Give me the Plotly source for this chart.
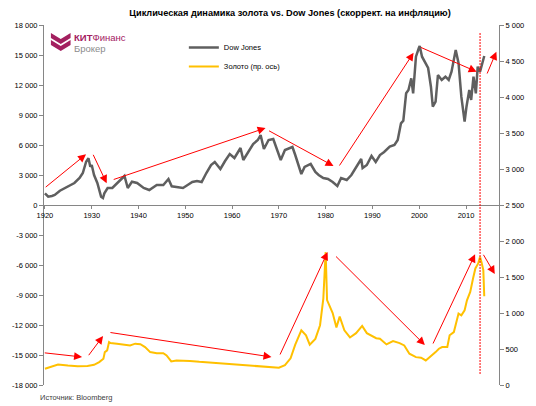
import plotly.graph_objects as go

# ---------------- data ----------------
dow_years = [1920.0, 1920.7, 1921.5, 1922.1, 1923.2, 1924.2, 1925.3, 1926.3, 1927.4, 1928.1,
             1928.8, 1929.3, 1929.7, 1930.0, 1930.5, 1931.2, 1932.0, 1932.4, 1932.7, 1933.4,
             1934.4, 1935.5, 1936.5, 1937.0, 1937.7, 1938.6, 1939.7, 1941.1, 1942.3, 1943.9,
             1945.3, 1946.4, 1947.1, 1948.1, 1949.5, 1950.5, 1951.5, 1952.5, 1953.5, 1954.5,
             1955.5, 1956.3, 1957.5, 1958.5, 1959.5, 1960.5, 1961.8, 1962.4, 1963.5, 1964.5,
             1965.5, 1966.1, 1966.8, 1967.8, 1968.8, 1969.5, 1970.4, 1971.3, 1972.9, 1973.5,
             1974.8, 1975.5, 1976.8, 1977.8, 1978.5, 1979.5, 1980.5, 1981.5, 1982.5, 1983.3,
             1984.5, 1985.5, 1986.5, 1987.6, 1987.9, 1988.8, 1989.8, 1990.7, 1991.6, 1992.5,
             1993.7, 1994.7, 1995.4, 1996.1, 1996.6, 1997.2, 1997.7, 1998.3, 1998.7, 1999.3,
             1999.9, 2000.1, 2000.6, 2001.4, 2001.9, 2002.5, 2002.9, 2003.5, 2004.0, 2004.8,
             2005.6, 2006.3, 2006.9, 2007.8, 2008.4, 2009.0, 2009.7, 2010.1, 2010.7, 2011.1,
             2011.6, 2012.1, 2012.5, 2013.0, 2013.5, 2013.9]
dow_values = [1170, 830, 900, 1000, 1430, 1700, 2000, 2200, 2700, 3200,
              4330, 4670, 3830, 4000, 3000, 2200, 830, 700, 1170, 1700,
              1700, 2200, 2700, 2900, 1700, 2330, 2200, 1700, 1500, 2000,
              2000, 2600, 1870, 1800, 1700, 2000, 2300, 2400, 2300, 3200,
              4000, 4300, 3600, 4400, 5100, 4700, 5700, 4500, 5400, 6100,
              6500, 7000, 5600, 6500, 6600, 5600, 4500, 5500, 5800, 5000,
              3100, 3800, 4100, 3300, 3000, 2700, 2600, 2300, 1900, 2700,
              2500, 3000, 3800, 4600, 3700, 4000, 4900, 4300, 5000, 5300,
              5830, 6000, 6500, 8170, 8430, 11170, 11500, 12670, 11170, 14830,
              15670, 15900, 14830, 14170, 13700, 11830, 9830, 10330, 13000, 12500,
              12830, 12500, 13330, 15500, 14200, 10830, 8330, 9830, 11500, 10500,
              12830, 11170, 13830, 13330, 14200, 14900]

gold_years = [1920.0, 1921.4, 1922.8, 1924.9, 1927.0, 1929.1, 1930.5, 1931.6, 1932.5, 1932.8,
              1933.3, 1933.7, 1934.0, 1935.4, 1936.8, 1938.2, 1939.3, 1940.4, 1941.4, 1942.5,
              1943.9, 1945.3, 1946.0, 1947.0, 1948.1, 1949.5, 1951.0, 1953.0, 1955.0, 1957.0,
              1959.0, 1961.0, 1963.0, 1965.0, 1967.0, 1968.5, 1970.0, 1971.3, 1972.5, 1973.5,
              1974.8, 1975.8, 1976.6, 1977.8, 1978.8, 1979.5, 1980.0, 1980.3, 1980.8, 1981.5,
              1982.3, 1983.0, 1984.0, 1985.2, 1986.5, 1987.8, 1988.8, 1989.8, 1990.8, 1991.6,
              1993.0, 1994.4, 1995.8, 1996.8, 1997.9, 1999.3, 2000.4, 2001.4, 2002.5, 2003.5,
              2004.2, 2004.9, 2006.0, 2006.5, 2007.4, 2008.1, 2008.4, 2009.0, 2009.7, 2010.2,
              2010.9, 2011.5, 2012.0, 2012.6, 2013.0, 2013.3, 2013.7, 2013.9]
gold_values = [225, 258, 285, 272, 262, 265, 280, 318, 365, 457,
               480, 596, 582, 574, 560, 550, 574, 566, 527, 457,
               442, 442, 411, 327, 341, 341, 335, 322, 312, 300,
               290, 282, 272, 262, 252, 245, 240, 275, 370, 560,
               760, 690, 560, 640, 830, 1200, 1845, 1180, 1100, 1000,
               800, 950, 760, 660, 720, 820, 720, 680, 650, 643,
               564, 610, 582, 550, 434, 387, 379, 341, 397, 457,
               504, 527, 527, 690, 735, 899, 992, 968, 1038, 1177,
               1293, 1480, 1619, 1688, 1780, 1710, 1595, 1233]

year_ticks = [1920, 1930, 1940, 1950, 1960, 1970, 1980, 1990, 2000, 2010]
left_ticks = list(range(-18000, 18001, 3000))
right_ticks = list(range(0, 5001, 500))

# red trend arrows: (tail year, tail value, head year, head value) on left axis
arrows = [
    (1919.85, 1670, 1928.78, 5070),
    (1930.17, 5170, 1933.20, 2170),
    (1934.38, 2500, 1967.16, 7700),
    (1967.58, 7500, 1981.68, 3900),
    (1982.74, 3800, 1998.80, 15230),
    (2000.00, 15830, 2012.27, 13330),
    (2014.38, 13000, 2016.48, 15330),
    (1919.64, -14770, 1927.94, -15200),
    (1929.12, -15170, 1932.42, -13100),
    (1933.68, -12730, 1968.42, -15200),
    (1970.11, -15100, 1980.42, -4700),
    (1981.89, -5000, 2001.20, -14000),
    (2002.80, -14000, 2011.94, -4930),
    (2013.54, -4830, 2016.15, -6900),
]
marker_year = 2013.0

title_text = "Циклическая динамика золота vs. Dow Jones (скоррект. на инфляцию)"
source_text = "Источник: Bloomberg"


def fmt(v):
    return f"{v:,}".replace(",", " ")


FONT = "Liberation Sans, Arial, sans-serif"
AXIS_COLOR = "#868686"
LOGO = "#A3205F"

# plot area in page pixels: x 39..501, y 25..385
PL, PR, PT, PB = 39, 501, 25, 385


def px2paper(px, py):
    return (px - PL) / (PR - PL), (PB - py) / (PB - PT)


fig = go.Figure()
fig.add_trace(go.Scatter(x=dow_years, y=dow_values, mode="lines", name="Dow Jones",
                         line=dict(color="#5F5F5F", width=2.5), yaxis="y",
                         legendgroup="a"))
fig.add_trace(go.Scatter(x=gold_years, y=gold_values, mode="lines", name="Золото (пр. ось)",
                         line=dict(color="#FFC000", width=2), yaxis="y2",
                         legendgroup="b"))

annotations = []
for tx, ty, hx, hy in arrows:
    annotations.append(dict(x=hx, y=hy, ax=tx, ay=ty, xref="x", yref="y",
                            axref="x", ayref="y", text="", showarrow=True,
                            arrowhead=2, arrowsize=1.6, arrowwidth=1,
                            arrowcolor="#FF0000", standoff=0, startstandoff=0))

# logo text
lx, ly = px2paper(67, 37)
annotations.append(dict(x=lx, y=ly, xref="paper", yref="paper",
                        text="<b>КИТ</b>Финанс", showarrow=False, xanchor="left",
                        yanchor="middle", font=dict(family=FONT, size=9.5, color=LOGO)))
lx, ly = px2paper(67, 49)
annotations.append(dict(x=lx, y=ly, xref="paper", yref="paper",
                        text="Брокер", showarrow=False, xanchor="left",
                        yanchor="middle", font=dict(family=FONT, size=9.5, color="#8C8C8C")))
# source
sx, sy = px2paper(33, 397)
annotations.append(dict(x=sx, y=sy, xref="paper", yref="paper",
                        text=source_text, showarrow=False, xanchor="left", yanchor="middle",
                        font=dict(family=FONT, size=7.5, color="#404040")))


def ppath(points):
    parts = []
    for i, (px, py) in enumerate(points):
        ux, uy = px2paper(px, py)
        parts.append(("M" if i == 0 else "L") + f"{ux:.4f},{uy:.4f}")
    return " ".join(parts) + " Z"


shapes = [
    dict(type="line", xref="x", yref="y", x0=marker_year, x1=marker_year, y0=-16900, y1=17200,
         line=dict(color="#FF0000", width=1, dash="2px,1px")),
    dict(type="path", xref="paper", yref="paper", line=dict(width=0), fillcolor=LOGO,
         path=ppath([(46, 33), (56, 39), (66, 33), (66, 38), (56, 44), (46, 38)])),
    dict(type="path", xref="paper", yref="paper", line=dict(width=0), fillcolor=LOGO,
         path=ppath([(46, 40), (56, 46), (66, 40), (66, 45), (56, 51), (46, 45)])),
]

legx, legy = px2paper(181, 33)

fig.update_layout(
    width=536, height=406,
    margin=dict(l=PL, r=536 - PR, t=PT, b=406 - PB),
    paper_bgcolor="white", plot_bgcolor="white",
    font=dict(family=FONT, size=7.5, color="black"),
    title=dict(text="<b>" + title_text + "</b>", x=290 / 536, xref="container", xanchor="center",
               y=1 - 13 / 406, yref="container", yanchor="middle",
               font=dict(family=FONT, size=9.2, color="black")),
    showlegend=True,
    legend=dict(x=legx, y=legy, xanchor="left", yanchor="top",
                bgcolor="rgba(0,0,0,0)", font=dict(family=FONT, size=7.5, color="black"),
                traceorder="grouped", tracegroupgap=0, itemwidth=30),
    xaxis=dict(range=[1919.8, 2017.05], tickvals=year_ticks, ticktext=[str(v) for v in year_ticks],
               anchor="free", position=0.5, showline=True, linecolor=AXIS_COLOR, linewidth=1,
               ticks="outside", ticklen=3, tickcolor=AXIS_COLOR, showgrid=False, zeroline=False,
               tickfont=dict(size=7.5)),
    yaxis=dict(range=[-18000, 18000], tickvals=left_ticks, ticktext=[fmt(v) for v in left_ticks],
               showline=True, linecolor=AXIS_COLOR, linewidth=1, ticks="outside", ticklen=4,
               tickcolor=AXIS_COLOR, showgrid=False, zeroline=False, tickfont=dict(size=7.5)),
    yaxis2=dict(range=[0, 5000], tickvals=right_ticks, ticktext=[fmt(v) for v in right_ticks],
                overlaying="y", side="right", showline=True, linecolor=AXIS_COLOR, linewidth=1,
                ticks="outside", ticklen=4, tickcolor=AXIS_COLOR, showgrid=False, zeroline=False,
                tickfont=dict(size=7.5)),
    annotations=annotations,
    shapes=shapes,
)

fig.write_html("out.html", config={"displayModeBar": False},
               post_script="document.body.style.margin='0';")
